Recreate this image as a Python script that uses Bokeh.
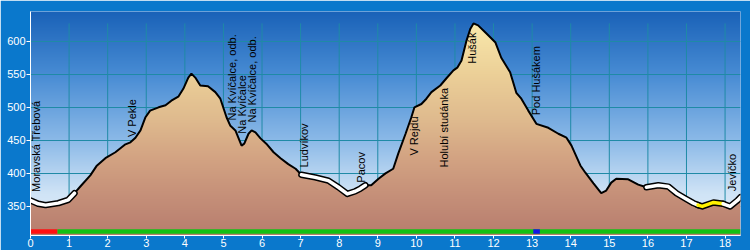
import numpy as np
from bokeh.plotting import figure
from bokeh.models import Range1d, FixedTicker
from bokeh.core.properties import value
from bokeh.embed import file_html
from bokeh.resources import INLINE

# ---------------- data ----------------
dist_km = [0, 0.2, 0.39, 0.72, 0.98, 1.14, 1.32, 1.55, 1.71, 1.94, 2.2, 2.46, 2.59, 2.72, 2.85,
           2.98, 3.1, 3.32, 3.5, 3.65, 3.83, 3.96, 4.09, 4.17, 4.27, 4.4, 4.6, 4.79, 4.92, 5.08,
           5.18, 5.31, 5.47, 5.54, 5.65, 5.73, 5.83, 5.96, 6.11, 6.3, 6.48, 6.68, 6.87, 7.02,
           7.38, 7.72, 7.98, 8.21, 8.42, 8.55, 8.68, 8.83, 9.02, 9.2, 9.4, 9.53, 9.72, 9.87,
           9.95, 10.13, 10.26, 10.39, 10.62, 10.78, 10.96, 11.06, 11.17, 11.3, 11.4, 11.48,
           11.6, 11.81, 12.05, 12.2, 12.43, 12.59, 12.72, 12.9, 13.11, 13.42, 13.68, 13.89,
           14.02, 14.25, 14.38, 14.59, 14.79, 14.92, 15.05, 15.18, 15.49, 15.75, 15.96, 16.27,
           16.53, 16.74, 16.97, 17.18, 17.3, 17.41, 17.7, 17.95, 18.13, 18.32, 18.4]
elev_m = [359, 354, 352, 355, 360, 370, 382, 397, 411, 423, 432, 444, 447, 454, 465,
          485, 495, 500, 503, 510, 516, 528, 545, 551, 545, 533, 532, 523, 513, 485,
          472, 465, 442, 445, 460, 465, 462, 453, 445, 432, 423, 414, 407, 398,
          394, 389, 379, 369, 373, 377, 382, 382, 392, 400, 407, 430, 460, 485,
          500, 505, 513, 523, 533, 544, 556, 560, 571, 601, 619, 627,
          624, 612, 598, 575, 553, 522, 513, 495, 475, 469, 460, 454,
          442, 412, 401, 385, 370, 374, 386, 392, 391, 383, 379, 382,
          380, 370, 362, 355, 352, 350, 356, 354, 350, 359, 364]

# road type segments along the profile
road_start = [0, 7.02, 15.96, 17.3, 17.95]
road_end = [1.14, 8.68, 17.3, 17.95, 18.4]
road_color = ["white", "white", "white", "#FFF200", "white"]

# surface bar at the bottom
bar_start = [0, 0.7, 13.03]
bar_end = [0.7, 18.4, 13.2]
bar_color = ["#FF1010", "#14C014", "#1414E6"]

# waypoint labels
label_text = ["Moravská Třebová", "V Pekle", "Na Kvíčalce, odb.", "Na Kvíčalce",
              "Na Kvíčalce, odb.", "Ludvíkov", "Pacov", "V Rejdu", "Holubí studánka",
              "Hušák", "Pod Hušákem", "Jevíčko"]
label_km = [0.14, 2.64, 5.23, 5.48, 5.74, 7.1, 8.56, 9.95, 10.71, 11.43, 13.11, 18.19]
label_elev = [372, 455, 480, 460, 477, 409, 386, 427, 409, 566, 488, 373]

x_ticks = list(range(0, 19))
y_ticks = [350, 400, 450, 500, 550, 600]

# ---------------- figure ----------------
X0, X1, Y0, Y1 = 0, 18.4, 306, 645
p = figure(width=750, height=250, x_range=Range1d(X0, X1), y_range=Range1d(Y0, Y1),
           output_backend="svg", toolbar_location=None,
           min_border_left=30, min_border_right=10, min_border_top=11, min_border_bottom=15,
           border_fill_color="#0A78CC", background_fill_color="#8DB8E6")
p.outline_line_color = None

W, H = 710, 224
ys = Y0 + (np.arange(H) + 0.5) / H * (Y1 - Y0)
xs = X0 + (np.arange(W) + 0.5) / W * (X1 - X0)


def gradient(stops, e):
    se = [s[0] for s in stops]
    return np.stack([np.interp(e, se, [s[1][i] for s in stops]) for i in range(3)], -1)


sky_stops = [(306, (228, 238, 250)), (370, (208, 228, 246)), (450, (140, 186, 232)),
             (550, (72, 140, 212)), (645, (26, 98, 184))]
ter_stops = [(306, (183, 125, 110)), (360, (196, 142, 120)), (420, (210, 162, 130)),
             (480, (223, 186, 142)), (550, (236, 208, 152)), (630, (250, 234, 172))]

sky = np.zeros((H, W, 4), dtype=np.uint8)
sky[..., :3] = gradient(sky_stops, ys)[:, None, :].astype(np.uint8)
sky[..., 3] = 255
p.image_rgba(image=[sky.view(np.uint32).reshape(H, W)], x=X0, y=Y0, dw=X1 - X0, dh=Y1 - Y0,
             level="image")

prof = np.interp(xs, dist_km, elev_m)
ter = np.zeros((H, W, 4), dtype=np.uint8)
ter[..., :3] = gradient(ter_stops, ys)[:, None, :].astype(np.uint8)
ter[..., 3] = np.where(ys[:, None] <= prof[None, :], 255, 0).astype(np.uint8)

grid_color = "#1F8AA6"
p.xgrid.grid_line_color = None
p.ygrid.grid_line_color = grid_color
p.ygrid.ticker = FixedTicker(ticks=y_ticks)
p.segment(x0=x_ticks, y0=[Y0] * len(x_ticks), x1=x_ticks, y1=[627] * len(x_ticks),
          line_color=grid_color, line_width=1, level="underlay")

p.image_rgba(image=[ter.view(np.uint32).reshape(H, W)], x=X0, y=Y0, dw=X1 - X0, dh=Y1 - Y0)

# profile line
p.line(dist_km, elev_m, line_color="black", line_width=2)
d = np.array(dist_km)
e = np.array(elev_m)
for a, b, c in zip(road_start, road_end, road_color):
    m = (d >= a - 1e-9) & (d <= b + 1e-9)
    p.line(d[m], e[m], line_color="black", line_width=6.5, line_join="round", line_cap="round")
for a, b, c in zip(road_start, road_end, road_color):
    m = (d >= a - 1e-9) & (d <= b + 1e-9)
    p.line(d[m], e[m], line_color=c, line_width=3.5, line_join="round", line_cap="round")

# bottom bar
p.quad(left=bar_start, right=bar_end, bottom=308.5, top=315.5, fill_color=bar_color,
       line_color=None)

# labels
p.text(x=label_km, y=label_elev, text=label_text, angle=np.pi / 2, text_align="left",
       text_baseline="middle", text_font=value("Liberation Sans"), text_font_size="11px",
       text_color="black")

# axes
for ax in (p.xaxis[0], p.yaxis[0]):
    ax.axis_line_color = "white"
    ax.major_tick_line_color = "white"
    ax.minor_tick_line_color = None
    ax.major_tick_in = 0
    ax.major_label_text_color = "white"
    ax.major_label_text_font = "Liberation Sans"
    ax.major_label_text_font_size = "11px"
p.xaxis.ticker = FixedTicker(ticks=x_ticks)
p.yaxis.ticker = FixedTicker(ticks=y_ticks)
p.xaxis.major_tick_out = 3
p.xaxis.major_label_standoff = 0
p.yaxis.major_tick_out = 4
p.yaxis.major_label_standoff = 1

open("out.html", "w").write(file_html(p, INLINE))
